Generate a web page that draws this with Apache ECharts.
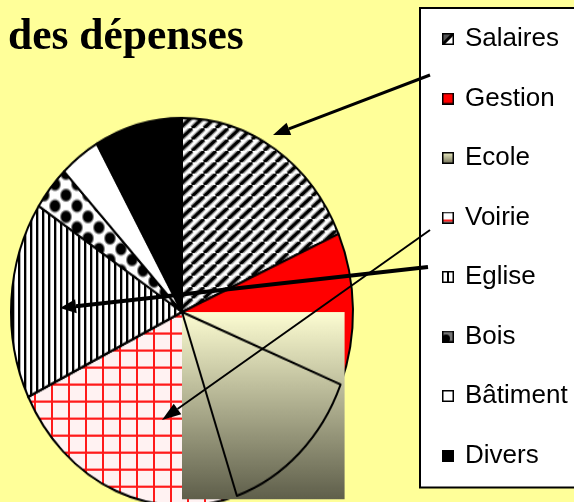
<!DOCTYPE html>
<html>
<head>
<meta charset="utf-8">
<script src="https://cdn.jsdelivr.net/npm/echarts@6/dist/echarts.min.js"></script>
<style>
html, body { margin: 0; padding: 0; background: #ffff99; width: 574px; height: 502px; overflow: hidden; }
#pie, #main { position: absolute; left: 0; top: 0; width: 574px; height: 502px; }
/* le camembert d'origine est étiré verticalement (ellipse) */
#pie { transform: scaleY(1.1345); transform-origin: 182px 312px; }
#main { z-index: 2; }
</style>
</head>
<body>
<div id="pie"></div>
<div id="main"></div>
<script>
var categories = ['Salaires', 'Gestion', 'Ecole', 'Voirie', 'Eglise', 'Bois', 'Bâtiment', 'Divers'];
var values = [18.4, 12.7, 13.7, 23.0, 16.4, 3.7, 3.8, 8.3];
var titleText = 'des dépenses';

var SY = 1.1345;
var CX = 182, CY = 312, R = 171;

// petites textures dessinées sur canvas
function tile(w, h, draw) {
    var c = document.createElement('canvas');
    c.width = w;
    c.height = h;
    draw(c.getContext('2d'), w, h);
    return c;
}

var stripes = tile(12, 10, function (ctx, w, h) {
    ctx.fillStyle = '#fff';
    ctx.fillRect(0, 0, w, h);
    [[5.5, '#aaa'], [3, '#000']].forEach(function (s) {
        ctx.lineWidth = s[0];
        ctx.strokeStyle = s[1];
        for (var k = -1; k <= 1; k++) {
            ctx.beginPath();
            ctx.moveTo(k * w, h);
            ctx.lineTo(k * w + w, 0);
            ctx.stroke();
        }
    });
});
var vlines = tile(6, 4, function (ctx, w, h) {
    ctx.fillStyle = '#fff';
    ctx.fillRect(0, 0, w, h);
    ctx.fillStyle = '#000';
    ctx.fillRect(0, 0, 2, h);
    ctx.fillStyle = '#aaa';
    ctx.fillRect(2, 0, 1, h);
});
var grid = tile(17, 15, function (ctx, w, h) {
    ctx.fillStyle = '#fff2f2';
    ctx.fillRect(0, 0, w, h);
    ctx.fillStyle = '#ff1a1a';
    ctx.fillRect(0, 0, w, 2);
    ctx.fillRect(0, 0, 2, h);
});
var dots = tile(22, 19, function (ctx, w, h) {
    ctx.fillStyle = '#fff';
    ctx.fillRect(0, 0, w, h);
    [[0, 0], [w, 0], [0, h], [w, h], [w / 2, h / 2]].forEach(function (p) {
        var g = ctx.createRadialGradient(p[0], p[1], 0, p[0], p[1], 6.5);
        g.addColorStop(0, '#000');
        g.addColorStop(0.65, '#000');
        g.addColorStop(1, 'rgba(0,0,0,0)');
        ctx.fillStyle = g;
        ctx.fillRect(p[0] - 7, p[1] - 7, 14, 14);
    });
});

var ecoleGrad = {
    type: 'linear', x: 0, y: 0, x2: 0, y2: 1,
    colorStops: [{offset: 0, color: '#fdfdd2'}, {offset: 1, color: '#5f5f4b'}]
};

var fills = [
    {image: stripes, repeat: 'repeat'},
    '#ff0000',
    ecoleGrad,
    {image: grid, repeat: 'repeat'},
    {image: vlines, repeat: 'repeat'},
    {image: dots, repeat: 'repeat'},
    '#ffffff',
    '#000000'
];

// rectangle dégradé de l'Ecole : boîte englobante du secteur (défaut du fichier d'origine)
var total = values.reduce(function (a, b) { return a + b; }, 0);
var before = values[0] + values[1];
var a0 = (90 - 360 * before / total) * Math.PI / 180;
var a1 = (90 - 360 * (before + values[2]) / total) * Math.PI / 180;
var xs = [CX], ys = [CY];
for (var i = 0; i <= 40; i++) {
    var a = a0 + (a1 - a0) * i / 40;
    xs.push(CX + R * Math.cos(a));
    ys.push(CY - R * Math.sin(a));
}
var bx0 = Math.min.apply(null, xs), bx1 = Math.max.apply(null, xs) + 4;
var by0 = Math.min.apply(null, ys), by1 = Math.max.apply(null, ys) + 3;

var pieChart = echarts.init(document.getElementById('pie'));
pieChart.setOption({
    backgroundColor: 'transparent',
    animation: false,
    graphic: [{
        type: 'rect',
        z: 3,
        silent: true,
        shape: {x: bx0, y: by0, width: bx1 - bx0, height: by1 - by0},
        style: {fill: ecoleGrad}
    }],
    series: [{
        type: 'pie',
        z: 2,
        center: [CX, CY],
        radius: R,
        startAngle: 90,
        silent: true,
        label: {show: false},
        labelLine: {show: false},
        itemStyle: {borderColor: '#000', borderWidth: 2},
        data: categories.map(function (n, i) {
            return {name: n, value: values[i], itemStyle: {color: fills[i]}};
        })
    }, {
        // contour de l'Ecole par-dessus le rectangle
        type: 'pie',
        z: 5,
        center: [CX, CY],
        radius: R,
        startAngle: 90,
        silent: true,
        label: {show: false},
        labelLine: {show: false},
        data: categories.map(function (n, i) {
            return {
                name: n, value: values[i],
                itemStyle: i === 2 ? {color: 'rgba(0,0,0,0)', borderColor: '#000', borderWidth: 2}
                    : {color: 'rgba(0,0,0,0)', borderWidth: 0}
            };
        })
    }]
});

// icônes de la légende
function icon(draw) {
    var c = tile(12, 12, function (ctx, w, h) {
        draw(ctx, w, h);
        ctx.strokeStyle = '#000';
        ctx.lineWidth = 1.5;
        ctx.strokeRect(0.75, 0.75, w - 1.5, h - 1.5);
    });
    return 'image://' + c.toDataURL();
}
var icons = [
    icon(function (ctx, w, h) {
        ctx.fillStyle = '#fff';
        ctx.fillRect(0, 0, w, h);
        ctx.fillStyle = '#555';
        ctx.beginPath();
        ctx.moveTo(0, 0); ctx.lineTo(w, 0); ctx.lineTo(0, h);
        ctx.fill();
        ctx.strokeStyle = '#000';
        ctx.lineWidth = 3;
        ctx.beginPath();
        ctx.moveTo(1, h - 1); ctx.lineTo(w - 1, 1);
        ctx.stroke();
    }),
    icon(function (ctx, w, h) { ctx.fillStyle = '#ff0000'; ctx.fillRect(0, 0, w, h); }),
    icon(function (ctx, w, h) {
        var g = ctx.createLinearGradient(0, 0, 0, h);
        g.addColorStop(0, '#f4f4c8');
        g.addColorStop(1, '#6c6c55');
        ctx.fillStyle = g;
        ctx.fillRect(0, 0, w, h);
    }),
    icon(function (ctx, w, h) {
        ctx.fillStyle = '#fff';
        ctx.fillRect(0, 0, w, h);
        ctx.fillStyle = '#ff2020';
        ctx.fillRect(0, 8, w, 2);
    }),
    icon(function (ctx, w, h) {
        ctx.fillStyle = '#fff';
        ctx.fillRect(0, 0, w, h);
        ctx.fillStyle = '#000';
        ctx.fillRect(5, 0, 2, h);
    }),
    icon(function (ctx, w, h) {
        ctx.fillStyle = '#777';
        ctx.fillRect(0, 0, w, h);
        ctx.fillStyle = '#000';
        ctx.beginPath();
        ctx.arc(4, 8, 4, 0, Math.PI * 2);
        ctx.fill();
    }),
    icon(function (ctx, w, h) { ctx.fillStyle = '#fff'; ctx.fillRect(0, 0, w, h); }),
    icon(function (ctx, w, h) { ctx.fillStyle = '#000'; ctx.fillRect(0, 0, w, h); })
];

// flèches
function arrow(x1, y1, x2, y2, lw, hl, hw) {
    var dx = x2 - x1, dy = y2 - y1, L = Math.sqrt(dx * dx + dy * dy);
    var ux = dx / L, uy = dy / L;
    var bx = x2 - ux * hl, by = y2 - uy * hl;
    return [{
        type: 'line', z: 10, silent: true,
        shape: {x1: x1, y1: y1, x2: bx, y2: by},
        style: {stroke: '#000', lineWidth: lw}
    }, {
        type: 'polygon', z: 10, silent: true,
        shape: {points: [[x2, y2], [bx - uy * hw / 2, by + ux * hw / 2], [bx + uy * hw / 2, by - ux * hw / 2]]},
        style: {fill: '#000'}
    }];
}

var myChart = echarts.init(document.getElementById('main'));
myChart.setOption({
    backgroundColor: 'transparent',
    animation: false,
    title: {
        text: titleText,
        left: 8,
        top: 16,
        padding: 0,
        textStyle: {fontFamily: 'Liberation Serif', fontWeight: 'bold', fontSize: 43.5, lineHeight: 44, color: '#000'}
    },
    legend: {
        orient: 'vertical',
        left: 420,
        top: 8,
        padding: [16, 60, 17, 22],
        backgroundColor: '#fff',
        borderColor: '#000',
        borderWidth: 2,
        borderRadius: 0,
        itemWidth: 12,
        itemHeight: 12,
        itemGap: 29.5,
        selectedMode: false,
        textStyle: {fontFamily: 'Liberation Sans', fontSize: 26, lineHeight: 30, color: '#000', padding: [0, 0, 0, 6]},
        data: categories.map(function (n, i) {
            return {name: n, icon: icons[i]};
        })
    },
    graphic: [].concat(
        arrow(430, 75, 273, 135, 3, 17, 13),
        arrow(428, 267, 60, 308, 4, 16, 14),
        arrow(430, 230, 162, 420, 2, 19, 13)
    ),
    series: [{
        // série cachée qui alimente la légende
        type: 'pie',
        center: [-300, -300],
        radius: 5,
        silent: true,
        label: {show: false},
        data: categories.map(function (n, i) {
            return {name: n, value: values[i]};
        })
    }]
});
</script>
</body>
</html>
